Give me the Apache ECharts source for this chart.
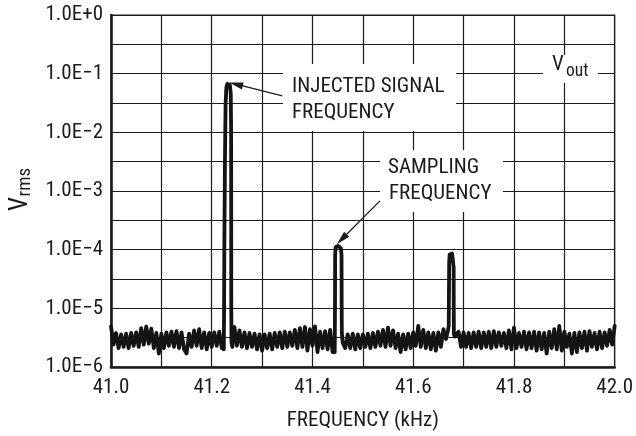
<!DOCTYPE html>
<html><head><meta charset="utf-8">
<script src="https://cdn.jsdelivr.net/npm/echarts@6/dist/echarts.min.js"></script>
<style>html,body{margin:0;padding:0;background:#fff}#c{width:636px;height:436px}</style>
</head><body><div id="c"></div>
<script>
const FONT = "'Liberation Sans Narrow','Arial Narrow','Roboto Condensed','Liberation Sans',sans-serif";
const INK = '#1c1c1c';

// tick labels
const xTickLabels = ['41.0', '41.2', '41.4', '41.6', '41.8', '42.0'];
const yTickLabels = ['1.0E+0', '1.0E\u22121', '1.0E\u22122', '1.0E\u22123', '1.0E\u22124', '1.0E\u22125', '1.0E\u22126'];

// noise floor, read every 0.005 kHz from 41.000 kHz, in microvolts (null = inside a peak)
const noiseStartKHz = 41.0;
const noiseStepKHz = 0.005;
const noiseMicroV = [
  4.9, 2.4, 3.8, 2.1, 3.6, 2.2, 3.7, 2.1, 3.8, 2.3,
  3.9, 2.2, 4.6, 2.4, 4.9, 2.5, 4.5, 2.1, 3.8, 1.7,
  3.7, 2.1, 3.9, 2.3, 4.0, 2.2, 4.1, 2.1, 3.9, 2.0,
  1.7, 3.7, 2.2, 4.2, 2.3, 4.4, 2.1, 3.9, 2.0, 3.8,
  2.2, 3.9, 2.3, 4.0, 2.1, null, null, null, null, 4.8,
  2.3, 4.2, 2.2, 3.9, 2.1, 3.8, 2.2, 3.7, 2.0, 3.6,
  1.9, 3.6, 2.1, 3.7, 2.0, 3.8, 2.2, 3.9, 2.1, 4.0,
  2.2, 3.9, 2.3, 4.3, 2.1, 4.6, 2.2, 4.8, 1.9, 4.4,
  2.3, 4.9, 1.8, 4.0, 2.1, 4.1, 2.0, 4.3, 1.8, null,
  null, null, null, 2.1, 3.6, 2.1, 3.7, 2.0, 3.6, 2.1,
  3.6, 2.2, 3.7, 2.1, 3.8, 2.2, 4.0, 2.3, 4.3, 2.2,
  4.7, 2.3, 4.2, 2.1, 3.7, 1.8, 3.6, 2.0, 3.7, 2.1,
  3.9, 2.3, 5.0, 2.2, 4.3, 2.1, 3.9, 2.0, 3.8, 1.9,
  3.9, 2.2, 4.4, 3.0, null, null, null, 3.4, 4.0, 2.2,
  3.9, 2.2, 3.8, 2.1, 3.9, 2.2, 4.0, 2.1, 3.9, 2.2,
  4.0, 2.1, 4.1, 2.2, 3.9, 2.3, 3.8, 2.1, 4.2, 2.0,
  4.7, 2.1, 3.8, 2.2, 4.0, 2.0, 3.9, 2.1, 4.0, 1.9,
  3.9, 2.0, 3.8, 1.7, 4.0, 2.1, 4.4, 2.0, 5.0, 1.9,
  4.0, 2.2, 3.7, 1.7, 3.8, 1.8, 3.9, 2.1, 4.0, 1.9,
  4.1, 2.2, 3.8, 2.0, 4.0, 2.1, 3.9, 2.3, 4.3, 2.4,
  5.0
];

// peaks: [frequency kHz, Vrms]
const injectedPeak = [
  [41.2225, 2.4e-6], [41.2240, 2.0e-6], [41.2245, 1e-5], [41.2250, 1e-4], [41.2262, 3e-3],
  [41.2275, 0.03], [41.2290, 0.058], [41.2310, 0.067], [41.2335, 0.068], [41.2360, 0.064],
  [41.2378, 0.045], [41.2385, 0.01], [41.2387, 1e-4], [41.2388, 1e-5], [41.2392, 2.6e-6],
  [41.2410, 2.2e-6], [41.2430, 3.6e-6]
];
const samplingPeak = [
  [41.4430, 2.0e-6], [41.4442, 1.8e-6], [41.4447, 1e-5], [41.4450, 8e-5], [41.4460, 1.10e-4],
  [41.4480, 1.17e-4], [41.4510, 1.16e-4], [41.4540, 1.14e-4], [41.4565, 1.05e-4], [41.4577, 8e-5],
  [41.4580, 1e-5], [41.4583, 3.8e-6], [41.4600, 2.6e-6]
];
const thirdPeak = [
  [41.6665, 3.4e-6], [41.6690, 4.2e-6], [41.6705, 5.0e-6], [41.6710, 2e-5], [41.6714, 6e-5],
  [41.6724, 8.3e-5], [41.6745, 8.7e-5], [41.6772, 8.6e-5], [41.6795, 8e-5], [41.6803, 5e-5],
  [41.6805, 1e-5], [41.6808, 3.6e-6], [41.6825, 3.3e-6]
];

// annotation arrows: [from, tip] in data coordinates
const injectedArrow = [[41.340, 0.042], [41.2347, 0.0706]];
const samplingArrow = [[41.534, 6.78e-4], [41.4483, 1.24e-4]];

// build the trace
const peaks = [injectedPeak, samplingPeak, thirdPeak];
let trace = [];
noiseMicroV.forEach((v, i) => {
  if (v == null) return;
  const f = +(noiseStartKHz + i * noiseStepKHz).toFixed(4);
  const inside = peaks.some(p => f >= p[0][0] && f <= p[p.length - 1][0]);
  if (!inside) trace.push([f, v * 1e-6]);
});
peaks.forEach(p => { trace = trace.concat(p); });
trace.sort((a, b) => a[0] - b[0]);

const chart = echarts.init(document.getElementById('c'), null, { renderer: 'canvas' });
chart.setOption({
  animation: false,
  backgroundColor: '#fff',
  textStyle: { fontFamily: FONT },
  grid: { left: 111, right: 18, top: 15, bottom: 65, show: true, borderColor: INK, borderWidth: 1.2, containLabel: false },
  xAxis: {
    type: 'value', min: 41, max: 42, interval: 0.1,
    name: 'FREQUENCY (kHz)', nameLocation: 'middle', nameGap: 43,
    nameTextStyle: { fontFamily: FONT, fontSize: 21, color: INK },
    axisLine: { show: true, onZero: false, lineStyle: { color: INK, width: 2.6 } },
    axisTick: { show: false },
    splitLine: { show: true, lineStyle: { color: INK, width: 1.2 } },
    axisLabel: {
      margin: 10, fontFamily: FONT, fontSize: 21, color: INK,
      formatter: v => { const s = v.toFixed(1); return xTickLabels.includes(s) ? s : ''; }
    }
  },
  yAxis: {
    type: 'log', logBase: 10, min: 1e-6, max: 1, interval: 0.5,
    axisLine: { show: true, onZero: false, lineStyle: { color: INK, width: 2.6 } },
    axisTick: { show: false },
    splitLine: { show: true, lineStyle: { color: INK, width: 1.2 } },
    minorSplitLine: { show: false },
    axisLabel: {
      margin: 8, fontFamily: FONT, fontSize: 21, color: INK,
      formatter: v => {
        const e = Math.log10(v);
        const r = Math.round(e);
        if (Math.abs(e - r) > 0.01) return '';
        return yTickLabels[-r] || '';
      }
    }
  },
  series: [{
    type: 'line', data: trace, showSymbol: false, symbol: 'none', clip: true,
    lineStyle: { color: '#141414', width: 3.8, join: 'round', cap: 'round' },
    z: 5
  }]
});

function arrow(pair) {
  const a = chart.convertToPixel({ gridIndex: 0 }, pair[0]);
  const b = chart.convertToPixel({ gridIndex: 0 }, pair[1]);
  const dx = b[0] - a[0], dy = b[1] - a[1];
  const L = Math.hypot(dx, dy), ux = dx / L, uy = dy / L;
  const hl = 14, hw = 3.6;
  const bx = b[0] - ux * hl, by = b[1] - uy * hl;
  return [
    { type: 'line', z: 20, shape: { x1: a[0], y1: a[1], x2: bx, y2: by }, style: { stroke: INK, lineWidth: 1.3 } },
    { type: 'polygon', z: 20, shape: { points: [[b[0], b[1]], [bx - uy * hw, by + ux * hw], [bx + uy * hw, by - ux * hw]] }, style: { fill: INK } }
  ];
}
function txt(s, x, y, size) {
  return { type: 'text', z: 21, style: { text: s, x: x, y: y, fontFamily: FONT, fontSize: size, fill: INK, align: 'left', verticalAlign: 'middle' } };
}
function box(x1, y1, x2, y2) {
  return { type: 'rect', z: 15, shape: { x: x1, y: y1, width: x2 - x1, height: y2 - y1 }, style: { fill: '#fff' } };
}

const g = [
  box(283, 64, 456, 131),
  box(380, 150, 503, 212),
  box(543, 55, 598, 83),
  txt('INJECTED SIGNAL', 292, 87, 21),
  txt('FREQUENCY', 292, 113, 21),
  txt('SAMPLING', 388, 168, 21),
  txt('FREQUENCY', 389, 194, 21),
  txt('V', 552, 64.5, 21),
  txt('out', 566, 71.5, 17.5),
  {
    type: 'group', x: 21, y: 211, rotation: Math.PI / 2, z: 21,
    children: [
      { type: 'text', style: { text: 'V', x: 0, y: 0, fontFamily: FONT, fontSize: 25, fill: INK, align: 'left', verticalAlign: 'middle' } },
      { type: 'text', style: { text: 'rms', x: 14.5, y: 4, fontFamily: FONT, fontSize: 19, fill: INK, align: 'left', verticalAlign: 'middle' } }
    ]
  }
].concat(arrow(injectedArrow), arrow(samplingArrow));
chart.setOption({ graphic: g });
</script>
</body></html>
